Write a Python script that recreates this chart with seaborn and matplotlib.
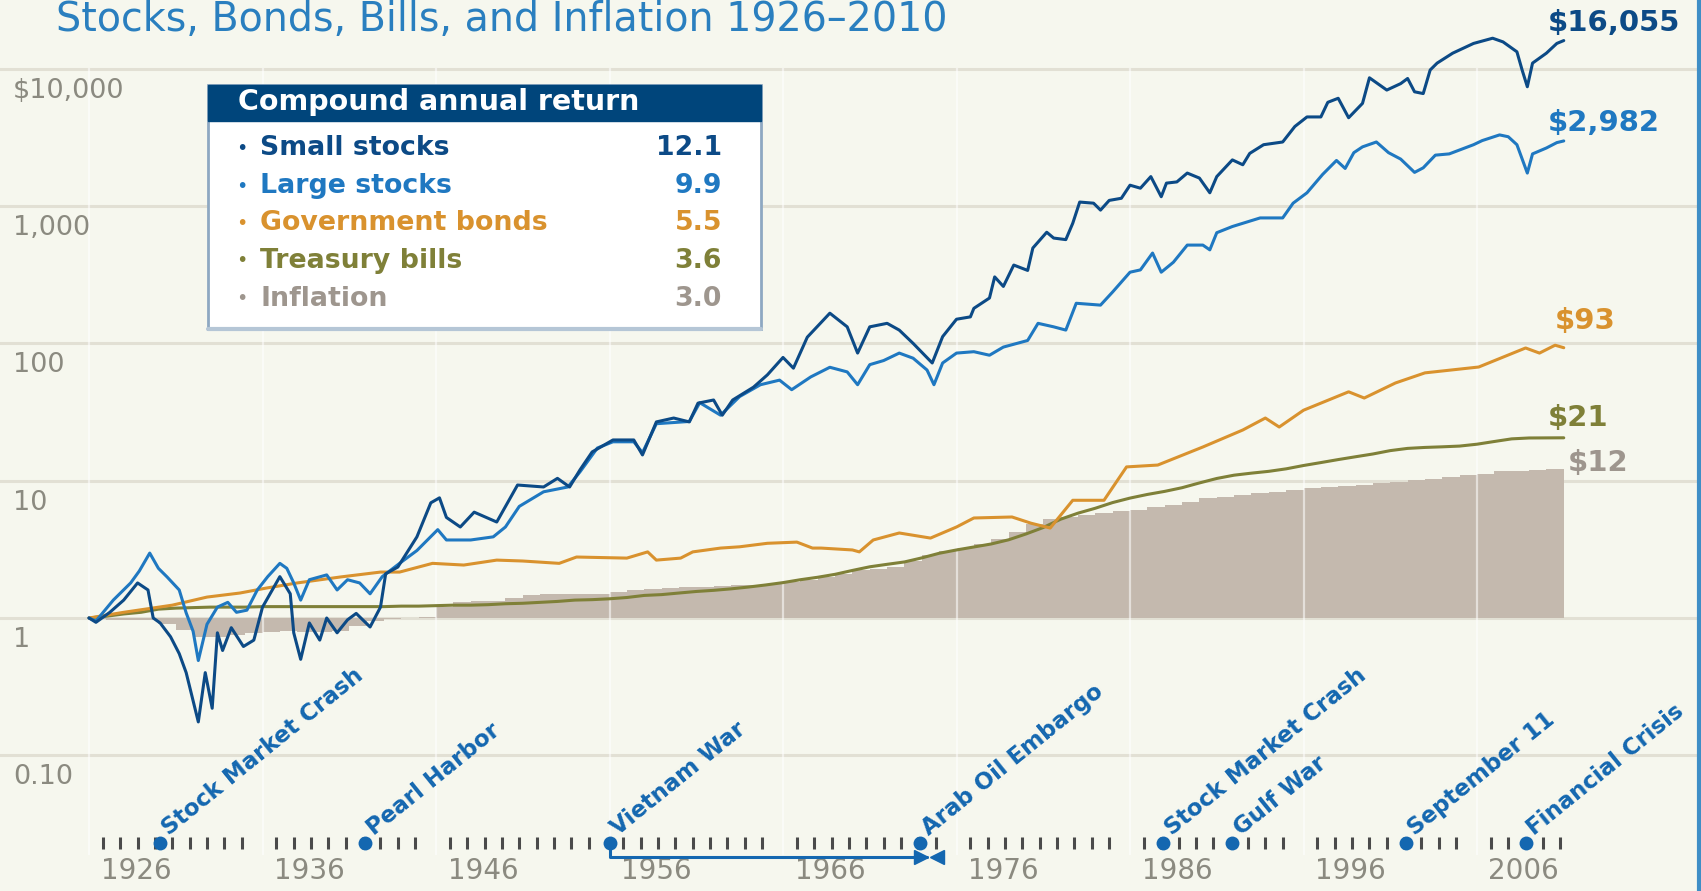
import pandas as pd
import seaborn as sns
import matplotlib.pyplot as plt
from matplotlib.patches import Rectangle
from matplotlib.lines import Line2D

# ---- data (decimal year, growth of $1) ----
small_t = [1926.0, 1926.4, 1927.2, 1928.0, 1928.8, 1929.4, 1929.7, 1930.1, 1930.7, 1931.2,
           1931.6, 1932.3, 1932.7, 1933.1, 1933.4, 1933.7, 1934.2, 1934.9, 1935.5, 1936.0,
           1937.0, 1937.6, 1937.8, 1938.2, 1938.7, 1939.3, 1939.7, 1940.3, 1940.9, 1941.4,
           1942.2, 1942.8, 1943.1, 1943.8, 1944.9, 1945.7, 1946.2, 1946.6, 1947.4, 1948.2,
           1949.5, 1950.7, 1952.2, 1953.0, 1953.7, 1954.3, 1955.0, 1956.2, 1957.4, 1957.9,
           1958.7, 1959.7, 1960.6, 1961.1, 1962.0, 1962.5, 1963.1, 1964.3, 1965.1, 1966.0,
           1966.6, 1967.4, 1968.7, 1969.7, 1970.3, 1971.0, 1972.0, 1972.7, 1973.5, 1974.6,
           1975.2, 1976.0, 1976.8, 1977.0, 1977.9, 1978.2, 1978.7, 1979.3, 1980.1, 1980.4,
           1981.2, 1981.6, 1982.3, 1982.7, 1983.1, 1983.9, 1984.3, 1984.8, 1985.5, 1986.0,
           1986.6, 1987.2, 1987.8, 1988.1, 1988.7, 1989.3, 1990.0, 1990.6, 1991.0, 1991.9,
           1992.5, 1992.9, 1993.7, 1994.8, 1995.5, 1996.2, 1997.0, 1997.4, 1998.0, 1998.6,
           1999.4, 1999.8, 2000.8, 2001.6, 2002.0, 2002.4, 2002.9, 2003.3, 2003.7, 2004.6,
           2005.8, 2006.9, 2007.5, 2008.3, 2008.6, 2008.9, 2009.2, 2010.0, 2010.6, 2011.0]
small_v = [1.0, 0.93, 1.1, 1.35, 1.8, 1.6, 1.0, 0.92, 0.73, 0.55,
           0.40, 0.175, 0.40, 0.22, 0.78, 0.58, 0.85, 0.62, 0.69, 1.2,
           2.0, 1.5, 0.78, 0.5, 0.92, 0.69, 1.0, 0.78, 0.97, 1.08,
           0.86, 1.2, 2.1, 2.35, 3.9, 6.9, 7.5, 5.4, 4.6, 5.9,
           5.0, 9.3, 9.0, 10.4, 9.0, 12, 16.2, 19.8, 19.8, 15.4,
           26.8, 28.6, 26.8, 36.7, 38.7, 30, 38.7, 48, 59, 79,
           66, 111, 166, 132, 85, 132, 140, 125, 100, 72,
           112, 150, 156, 180, 214, 305, 260, 372, 340, 495,
           645, 585, 570, 750, 1070, 1050, 935, 1100, 1140, 1420,
           1350, 1640, 1170, 1470, 1500, 1740, 1600, 1250, 1640, 2170,
           2000, 2420, 2800, 2930, 3800, 4460, 4460, 5700, 6100, 4400,
           5600, 8600, 7000, 7800, 8500, 6800, 6600, 9800, 11000, 13000,
           15300, 16700, 15700, 13300, 9800, 7400, 11000, 13000, 15300, 16055]

large_t = [1926.0, 1926.4, 1927.4, 1928.4, 1928.9, 1929.5, 1930.0, 1930.5, 1931.2, 1931.6,
           1932.0, 1932.3, 1932.8, 1933.4, 1934.0, 1934.5, 1935.1, 1935.7, 1936.3, 1937.0,
           1937.4, 1937.8, 1938.2, 1938.7, 1939.7, 1940.3, 1940.9, 1941.6, 1942.2, 1942.9,
           1943.9, 1944.9, 1946.1, 1946.6, 1948.0, 1949.3, 1950.0, 1950.8, 1952.2, 1953.6,
           1954.3, 1955.3, 1956.2, 1957.4, 1957.9, 1958.7, 1960.6, 1961.2, 1962.4, 1963.5,
           1964.7, 1965.8, 1966.5, 1967.6, 1968.7, 1969.7, 1970.3, 1971.0, 1971.8, 1972.7,
           1973.5, 1974.3, 1974.7, 1975.2, 1976.0, 1977.0, 1977.9, 1978.7, 1980.1, 1980.7,
           1981.6, 1982.3, 1982.9, 1984.3, 1985.0, 1986.0, 1986.6, 1987.3, 1987.8, 1988.5,
           1989.3, 1990.2, 1990.6, 1991.0, 1991.9, 1993.5, 1994.8, 1995.4, 1996.2, 1997.1,
           1997.9, 1998.4, 1998.9, 1999.4, 2000.2, 2000.9, 2001.6, 2002.4, 2002.9, 2003.6,
           2004.4, 2005.8, 2006.3, 2007.3, 2007.8, 2008.3, 2008.9, 2009.2, 2010.0, 2010.6,
           2011.0]
large_v = [1.0, 0.95, 1.35, 1.8, 2.2, 2.97, 2.3, 1.99, 1.6, 1.09,
           0.8, 0.49, 0.9, 1.2, 1.3, 1.1, 1.14, 1.6, 2.0, 2.5,
           2.3, 1.8, 1.35, 1.9, 2.06, 1.6, 1.9, 1.8, 1.5, 2.0,
           2.5, 3.1, 4.4, 3.7, 3.7, 3.9, 4.6, 6.5, 8.3, 9.0,
           11.6, 17.3, 19.2, 19.2, 16, 26, 27, 37, 30, 41,
           50, 54, 46, 57, 67, 62, 50, 70, 75, 85,
           78, 64, 50, 72, 85, 87, 82, 94, 105, 140,
           132, 125, 196, 190, 237, 330, 343, 455, 330, 390,
           520, 520, 480, 640, 710, 820, 820, 1050, 1250, 1700,
           2150, 1880, 2450, 2700, 2930, 2450, 2200, 1760, 1900, 2350,
           2400, 2800, 3000, 3300, 3200, 2800, 1740, 2400, 2650, 2900,
           2982]

bond_t = [1926.0, 1928.0, 1930.8, 1932.8, 1934.7, 1936.2, 1938.0, 1940.5, 1942.8, 1943.9,
          1945.8, 1947.6, 1949.5, 1951.0, 1953.1, 1954.1, 1957.0, 1958.2, 1958.7, 1960.1,
          1960.8, 1962.4, 1963.5, 1965.1, 1966.8, 1967.7, 1968.2, 1970.0, 1970.4, 1971.2,
          1972.7, 1974.5, 1976.0, 1977.0, 1979.2, 1980.3, 1981.4, 1982.7, 1984.5, 1985.8,
          1987.6, 1990.2, 1992.5, 1993.8, 1994.6, 1996.0, 1998.6, 1999.5, 2001.3, 2003.0,
          2006.1, 2008.8, 2009.6, 2010.5, 2011.0]
bond_v = [1.0, 1.1, 1.24, 1.42, 1.52, 1.65, 1.8, 1.99, 2.16, 2.16,
          2.5, 2.43, 2.64, 2.6, 2.5, 2.78, 2.73, 3.03, 2.64, 2.73,
          3.03, 3.23, 3.3, 3.5, 3.57, 3.23, 3.23, 3.13, 3.03, 3.7,
          4.16, 3.82, 4.6, 5.35, 5.44, 4.9, 4.52, 7.2, 7.2, 12.6,
          13.0, 17.6, 23.4, 28.6, 24.6, 32.6, 44.4, 40, 51.5, 61,
          67.3, 92.6, 85, 97, 93]

# year-end values, first entry = start of 1926
annual_t = list(range(1926, 2012))
bill_v = [1.00,
          1.03, 1.07, 1.10, 1.16, 1.18, 1.19, 1.20, 1.20, 1.20, 1.21,
          1.21, 1.21, 1.21, 1.21, 1.21, 1.21, 1.21, 1.22, 1.22, 1.23,
          1.24, 1.24, 1.25, 1.27, 1.28, 1.30, 1.32, 1.35, 1.36, 1.38,
          1.41, 1.46, 1.48, 1.52, 1.56, 1.59, 1.63, 1.68, 1.74, 1.81,
          1.90, 1.98, 2.08, 2.22, 2.36, 2.46, 2.56, 2.74, 2.96, 3.13,
          3.29, 3.46, 3.71, 4.09, 4.56, 5.24, 5.80, 6.30, 6.93, 7.47,
          7.94, 8.36, 8.89, 9.63, 10.38, 10.97, 11.35, 11.70, 12.20, 12.90,
          13.55, 14.25, 14.94, 15.65, 16.56, 17.19, 17.47, 17.65, 17.87, 18.44,
          19.30, 20.17, 20.47, 20.50, 20.53]
infl_v = [1.00,
          0.99, 0.97, 0.96, 0.96, 0.90, 0.82, 0.73, 0.73, 0.75, 0.78,
          0.79, 0.81, 0.79, 0.79, 0.80, 0.87, 0.95, 0.98, 1.00, 1.02,
          1.21, 1.31, 1.34, 1.32, 1.40, 1.48, 1.49, 1.50, 1.49, 1.50,
          1.55, 1.60, 1.63, 1.65, 1.67, 1.68, 1.70, 1.73, 1.75, 1.78,
          1.84, 1.90, 1.98, 2.10, 2.22, 2.29, 2.37, 2.58, 2.88, 3.08,
          3.23, 3.45, 3.76, 4.26, 4.80, 5.22, 5.42, 5.62, 5.84, 6.06,
          6.13, 6.40, 6.69, 7.00, 7.43, 7.65, 7.88, 8.09, 8.31, 8.52,
          8.81, 8.96, 9.11, 9.35, 9.66, 9.81, 10.04, 10.23, 10.57, 10.93,
          11.21, 11.67, 11.68, 12.00, 12.17]

series_names = ['Small stocks', 'Large stocks', 'Government bonds', 'Treasury bills', 'Inflation']
cagr = ['12.1', '9.9', '5.5', '3.6', '3.0']
end_labels = ['$16,055', '$2,982', '$93', '$21', '$12']

event_names = ['Stock Market Crash', 'Pearl Harbor', 'Vietnam War', 'Arab Oil Embargo',
               'Stock Market Crash', 'Gulf War', 'September 11', 'Financial Crisis']
event_t = [1930.1, 1941.9, 1956.0, 1973.9, 1987.9, 1991.9, 2001.9, 2008.8]

y_ticks = [10000, 1000, 100, 10, 1, 0.1]
y_tick_labels = ['$10,000', '1,000', '100', '10', '1', '0.10']
decades = list(range(1926, 2016, 10))

# ---- style ----
BG = '#f6f7ee'
GRID = '#e2e0d4'
C_SMALL = '#0c4a86'
C_LARGE = '#1f78c1'
C_BOND = '#d9922e'
C_BILL = '#7f8038'
C_INFL = '#c4b9ae'
C_INFL_TXT = '#9e968e'
C_EVENT = '#1467b0'
C_AXIS = '#8b8a80'
colors = [C_SMALL, C_LARGE, C_BOND, C_BILL, C_INFL_TXT]

sns.set_style('white')
plt.rcParams['font.family'] = ['DejaVu Sans']

W, H = 1701, 891
fig = plt.figure(figsize=(W / 100, H / 100), dpi=100, facecolor=BG)
ax = fig.add_axes([0, 0, 1, 1])
ax.set_facecolor(BG)
ax.set_yscale('log')
ax.set_xlim(1920.87, 2018.91)
ax.set_ylim(0.01027, 31700)
ax.axis('off')


def fx(x):
    return x / W


def fy(y):
    return 1 - y / H


xt = ax.get_xaxis_transform()
yt = ax.get_yaxis_transform()

# grid
for v in y_ticks:
    ax.axhline(v, color=GRID, lw=2.2, zorder=0.5)
ax.vlines(decades, 0.04, 0.9237, transform=xt, color='white', lw=1.6, alpha=0.55, zorder=2)

# inflation area
ax.fill_between(annual_t, 1, infl_v, step='pre', color=C_INFL, lw=0, zorder=1)

# lines
line_kw = dict(ax=ax, estimator=None, sort=False, legend=False)
sns.lineplot(x=annual_t, y=bill_v, color=C_BILL, lw=2.2, zorder=3, **line_kw)
sns.lineplot(x=bond_t, y=bond_v, color=C_BOND, lw=2.2, zorder=4, **line_kw)
sns.lineplot(x=large_t, y=large_v, color=C_LARGE, lw=2.2, zorder=5, **line_kw)
sns.lineplot(x=small_t, y=small_v, color=C_SMALL, lw=2.2, zorder=6, **line_kw)

# end labels
ends = [(small_t[-1], small_v[-1], -16, 18), (large_t[-1], large_v[-1], -16, 18),
        (bond_t[-1], bond_v[-1], -9, 27), (annual_t[-1], bill_v[-1], -16, 20),
        (annual_t[-1], infl_v[-1], 4, 6)]
for (t, v, dx, dy), lbl, c in zip(ends, end_labels, colors):
    ax.annotate(lbl, xy=(t, v), xytext=(dx, dy), textcoords='offset pixels',
                ha='left', va='center', fontsize=21, fontweight='bold', color=c, zorder=8)

# y labels
for v, lbl in zip(y_ticks, y_tick_labels):
    ax.annotate(lbl, xy=(0, v), xycoords=yt, xytext=(13, -22), textcoords='offset pixels',
                ha='left', va='center', fontsize=19.5, color=C_AXIS)

# timeline
tl_y = fy(843)
tick_x = [y + 0.8 for y in range(1926, 2011) if y % 10 != 5]
ax.vlines(tick_x, fy(837), fy(849), transform=xt, color='#4a4a4a', lw=2.2, zorder=3)
ax.scatter(event_t, [tl_y] * len(event_t), transform=xt, s=100, color=C_EVENT,
           zorder=5, linewidths=0)
for t, name in zip(event_t, event_names):
    ax.annotate(name, xy=(t, tl_y), xycoords=xt, xytext=(12, 3), textcoords='offset pixels',
                rotation=39, rotation_mode='anchor', ha='left', va='bottom',
                fontsize=16.5, fontweight='bold', color=C_EVENT, zorder=6)
for d in decades:
    ax.text(d + 2.7, fy(871), str(d), transform=xt, ha='center', va='center',
            fontsize=20, color=C_AXIS)

# Vietnam war span
br_y = fy(857)
ax.plot([event_t[2], event_t[2], 1974.3], [tl_y, br_y, br_y], transform=xt,
        color=C_EVENT, lw=2.2, zorder=4)
ax.plot([1973.95], [br_y], marker='>', ms=10, color=C_EVENT, transform=xt, zorder=5)
ax.plot([1974.85], [br_y], marker='<', ms=10, color=C_EVENT, transform=xt, zorder=5)

# title
fig.text(fx(56), fy(20), 'Stocks, Bonds, Bills, and Inflation 1926\u20132010', ha='left',
         va='center', fontsize=28.5, color='#2a7fbf')

# legend box
bx0, bx1, by0, by1, hb = 208, 761, 85, 329, 121
fig.add_artist(Rectangle((fx(bx0), fy(by1)), fx(bx1 - bx0), (by1 - by0) / H,
                         transform=fig.transFigure, facecolor='white',
                         edgecolor='#8ea8c2', lw=2, zorder=10))
fig.add_artist(Rectangle((fx(bx0), fy(hb)), fx(bx1 - bx0), (hb - by0) / H,
                         transform=fig.transFigure, facecolor='#00457b',
                         edgecolor='#00457b', lw=1, zorder=11))
fig.add_artist(Line2D([fx(bx0), fx(bx1)], [fy(by1), fy(by1)], transform=fig.transFigure,
                      color='#b5c6d6', lw=3, zorder=12))
fig.text(fx(238), fy(102), 'Compound annual return', ha='left', va='center',
         fontsize=20.5, fontweight='bold', color='white', zorder=13)
row_y = [148, 186, 223, 261, 299]
for yy, name, val, c in zip(row_y, series_names, cagr, colors):
    fig.text(fx(236), fy(yy), '\u2022', ha='left', va='center', fontsize=14,
             color=c, zorder=13)
    fig.text(fx(260), fy(yy), name, ha='left', va='center', fontsize=19.3,
             fontweight='bold', color=c, zorder=13)
    fig.text(fx(722), fy(yy), val, ha='right', va='center', fontsize=19.3,
             fontweight='bold', color=c, zorder=13)

# right border
fig.add_artist(Line2D([fx(1699), fx(1699)], [0, 1], transform=fig.transFigure,
                      color='#3f8ec6', lw=3, zorder=20))

fig.savefig('out.png', dpi=100, facecolor=BG)
